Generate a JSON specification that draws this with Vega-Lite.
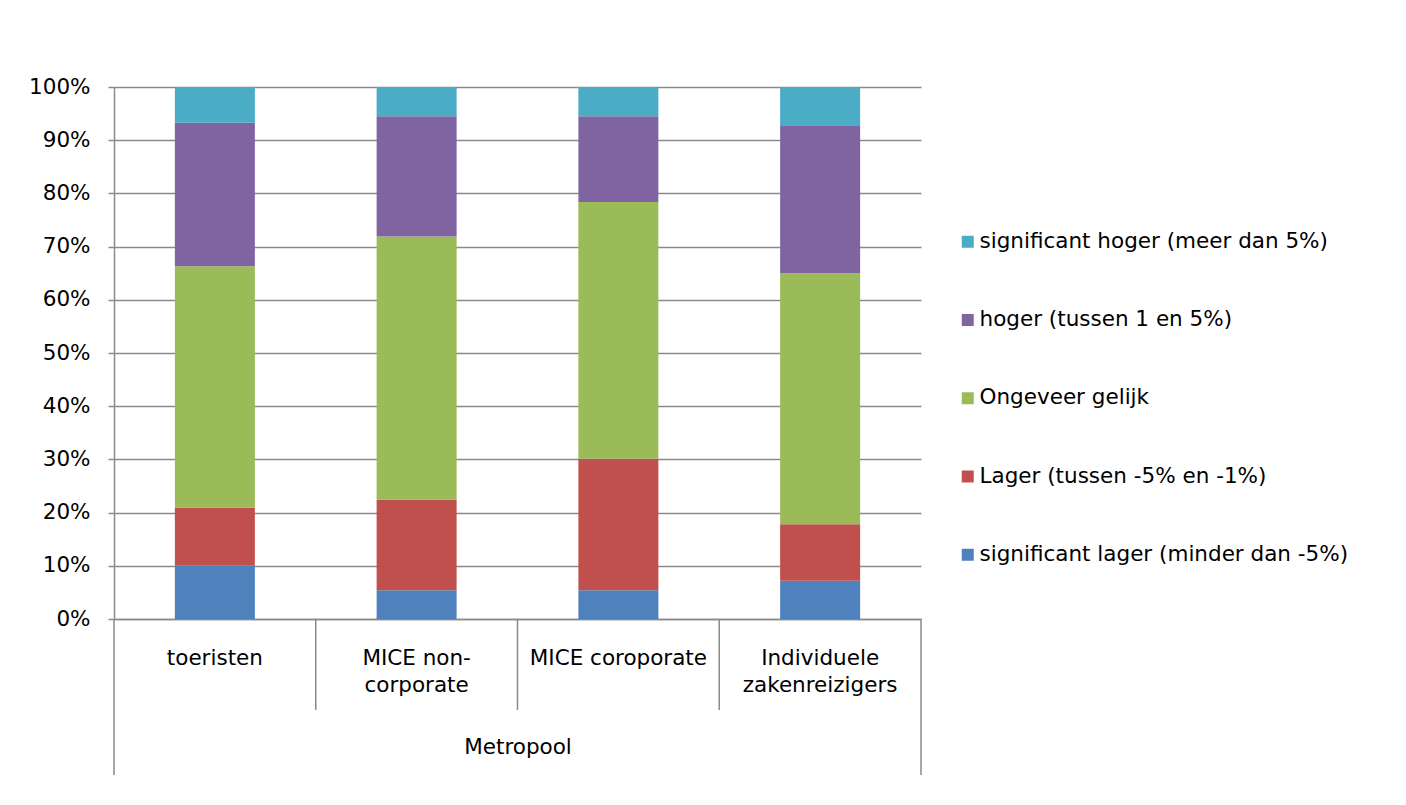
{
  "$schema": "https://vega.github.io/schema/vega-lite/v6.json",
  "autosize": {"type": "none"},
  "padding": {"left": 114, "top": 87, "right": 485, "bottom": 186},
  "width": 807,
  "height": 532,
  "background": "white",
  "config": {
    "font": "DejaVu Sans",
    "view": {"stroke": null},
    "axis": {"labelFont": "DejaVu Sans", "titleFont": "DejaVu Sans", "labelColor": "#000000", "titleColor": "#000000"}
  },
  "layer": [
    {
      "data": {"values": [
        {"cat": "toeristen", "cls": "significant lager (minder dan -5%)", "k": 1, "v": 0.100},
        {"cat": "toeristen", "cls": "Lager (tussen -5% en -1%)", "k": 2, "v": 0.109},
        {"cat": "toeristen", "cls": "Ongeveer gelijk", "k": 3, "v": 0.454},
        {"cat": "toeristen", "cls": "hoger (tussen 1 en 5%)", "k": 4, "v": 0.270},
        {"cat": "toeristen", "cls": "significant hoger (meer dan 5%)", "k": 5, "v": 0.067},
        {"cat": "MICE non-corporate", "cls": "significant lager (minder dan -5%)", "k": 1, "v": 0.054},
        {"cat": "MICE non-corporate", "cls": "Lager (tussen -5% en -1%)", "k": 2, "v": 0.170},
        {"cat": "MICE non-corporate", "cls": "Ongeveer gelijk", "k": 3, "v": 0.495},
        {"cat": "MICE non-corporate", "cls": "hoger (tussen 1 en 5%)", "k": 4, "v": 0.226},
        {"cat": "MICE non-corporate", "cls": "significant hoger (meer dan 5%)", "k": 5, "v": 0.055},
        {"cat": "MICE coroporate", "cls": "significant lager (minder dan -5%)", "k": 1, "v": 0.054},
        {"cat": "MICE coroporate", "cls": "Lager (tussen -5% en -1%)", "k": 2, "v": 0.247},
        {"cat": "MICE coroporate", "cls": "Ongeveer gelijk", "k": 3, "v": 0.483},
        {"cat": "MICE coroporate", "cls": "hoger (tussen 1 en 5%)", "k": 4, "v": 0.161},
        {"cat": "MICE coroporate", "cls": "significant hoger (meer dan 5%)", "k": 5, "v": 0.055},
        {"cat": "Individuele zakenreizigers", "cls": "significant lager (minder dan -5%)", "k": 1, "v": 0.072},
        {"cat": "Individuele zakenreizigers", "cls": "Lager (tussen -5% en -1%)", "k": 2, "v": 0.106},
        {"cat": "Individuele zakenreizigers", "cls": "Ongeveer gelijk", "k": 3, "v": 0.472},
        {"cat": "Individuele zakenreizigers", "cls": "hoger (tussen 1 en 5%)", "k": 4, "v": 0.278},
        {"cat": "Individuele zakenreizigers", "cls": "significant hoger (meer dan 5%)", "k": 5, "v": 0.072}
      ]},
      "mark": {"type": "bar", "width": {"band": 0.3965}},
      "encoding": {
        "x": {
          "field": "cat", "type": "nominal",
          "sort": ["toeristen", "MICE non-corporate", "MICE coroporate", "Individuele zakenreizigers"],
          "scale": {"paddingInner": 0, "paddingOuter": 0},
          "axis": {
            "title": "Metropool",
            "titleFontSize": 21.5, "titleFontWeight": "normal", "titlePadding": 41,
            "labelAngle": 0, "labelFontSize": 21.5, "labelLineHeight": 27, "labelPadding": 28,
            "labelLimit": 300,
            "labelExpr": "datum.label == 'MICE non-corporate' ? ['MICE non-', 'corporate'] : datum.label == 'Individuele zakenreizigers' ? ['Individuele', 'zakenreizigers'] : datum.label",
            "ticks": false,
            "domain": true, "domainColor": "#8a8a8a", "domainWidth": 1.5
          }
        },
        "y": {
          "field": "v", "type": "quantitative", "stack": "zero",
          "scale": {"domain": [0, 1], "nice": false},
          "axis": {
            "title": null,
            "values": [0, 0.1, 0.2, 0.3, 0.4, 0.5, 0.6, 0.7, 0.8, 0.9, 1],
            "format": ".0%",
            "labelFontSize": 21.5, "labelPadding": 18,
            "ticks": true, "tickSize": 6, "tickColor": "#8a8a8a", "tickWidth": 1.5,
            "domain": true, "domainColor": "#8a8a8a", "domainWidth": 1.5,
            "grid": true, "gridColor": "#8a8a8a", "gridWidth": 1.5
          }
        },
        "color": {
          "field": "cls", "type": "nominal",
          "scale": {
            "domain": ["significant hoger (meer dan 5%)", "hoger (tussen 1 en 5%)", "Ongeveer gelijk", "Lager (tussen -5% en -1%)", "significant lager (minder dan -5%)"],
            "range": ["#4bacc6", "#8064a2", "#9bbb59", "#c0504d", "#4f81bd"]
          },
          "legend": {
            "title": null, "orient": "none", "legendX": 843, "legendY": 144,
            "padding": 0, "symbolType": "square", "symbolSize": 144, "symbolStrokeWidth": 0,
            "labelFontSize": 21.5, "labelColor": "#000000", "labelFont": "DejaVu Sans",
            "labelOffset": 1, "labelLimit": 500, "rowPadding": 55.25
          }
        },
        "order": {"field": "k", "type": "quantitative", "sort": "ascending"}
      }
    },
    {
      "data": {"values": [{"cat": "MICE non-corporate"}, {"cat": "MICE coroporate"}, {"cat": "Individuele zakenreizigers"}]},
      "mark": {"type": "rule", "color": "#8a8a8a", "strokeWidth": 1.5},
      "encoding": {
        "x": {"field": "cat", "type": "nominal", "bandPosition": 0, "sort": ["toeristen", "MICE non-corporate", "MICE coroporate", "Individuele zakenreizigers"]},
        "y": {"datum": -0.171, "type": "quantitative"},
        "y2": {"datum": 0}
      }
    },
    {
      "data": {"values": [{"cat": "toeristen"}]},
      "mark": {"type": "rule", "color": "#8a8a8a", "strokeWidth": 1.5},
      "encoding": {
        "x": {"field": "cat", "type": "nominal", "bandPosition": 0, "sort": ["toeristen", "MICE non-corporate", "MICE coroporate", "Individuele zakenreizigers"]},
        "y": {"datum": -0.293, "type": "quantitative"},
        "y2": {"datum": 0}
      }
    },
    {
      "data": {"values": [{"cat": "Individuele zakenreizigers"}]},
      "mark": {"type": "rule", "color": "#8a8a8a", "strokeWidth": 1.5},
      "encoding": {
        "x": {"field": "cat", "type": "nominal", "bandPosition": 1, "sort": ["toeristen", "MICE non-corporate", "MICE coroporate", "Individuele zakenreizigers"]},
        "y": {"datum": -0.293, "type": "quantitative"},
        "y2": {"datum": 0}
      }
    }
  ]
}
